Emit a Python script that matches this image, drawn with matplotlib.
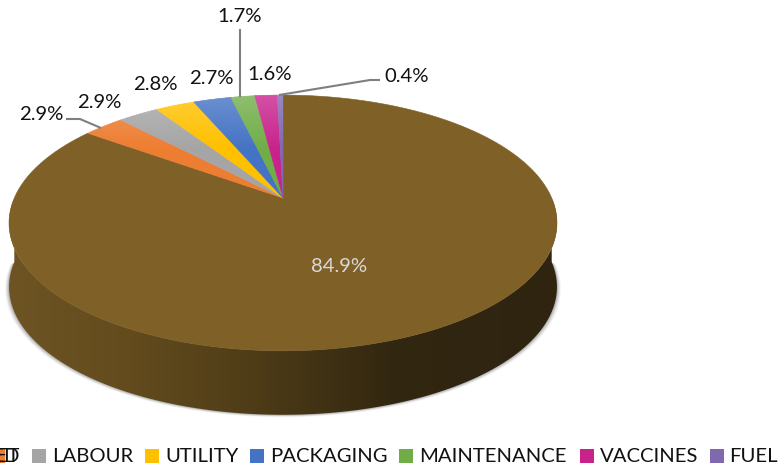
import numpy as np
import matplotlib
matplotlib.use("Agg")
import matplotlib.pyplot as plt
from matplotlib.patches import Polygon, Rectangle
from matplotlib.colors import LinearSegmentedColormap

plt.rcParams['font.family'] = ['Lato', 'DejaVu Sans']

categories = ["FEED", "VET", "LABOUR", "UTILITY", "PACKAGING", "MAINTENANCE", "VACCINES", "FUEL"]
shares = [84.9, 2.9, 2.9, 2.8, 2.7, 1.7, 1.6, 0.4]
colors = ["#7F6128", "#ED7D31", "#A5A5A5", "#FFC000", "#4472C4", "#70AD47", "#C8228C", "#7F68AE"]

# Tilted-disc geometry, in pixels
APEX = (283.0, 198.0)
TILT = 0.195
SCALE_X = 268.7
SCALE_Y = 123.0
DEPTH = 64.0
FONT = 14.6


def project(x, y):
    w = 1 + TILT * y
    return APEX[0] + SCALE_X * x / w, APEX[1] - SCALE_Y * y / w


def wedge_outline(theta1, theta2, r):
    t = np.radians(np.linspace(theta1, theta2, max(int(theta2 - theta1) * 3, 12)))
    x = np.r_[0.0, r * np.cos(t)]
    y = np.r_[0.0, r * np.sin(t)]
    return np.column_stack(project(x, y))


fig = plt.figure(figsize=(7.84, 4.70), dpi=100)
ax = fig.add_axes([0, 0, 1, 1])
wedges, _ = ax.pie(shares, colors=colors, startangle=90, counterclock=False)
ax.set_aspect('auto')
ax.set_xlim(0, 784)
ax.set_ylim(470, 0)
ax.axis('off')

# Soft shadow around the rim
tt = np.radians(np.linspace(180, 360, 240))
rx, ry = project(np.cos(tt), np.sin(tt))
for grow, alpha in [(4.0, 0.06), (3.0, 0.10), (2.0, 0.14), (1.0, 0.20)]:
    cx = 283.0
    sx = cx + (rx - cx) * (1 + grow / 274)
    ax.add_patch(Polygon(np.column_stack([sx, ry + DEPTH + grow * 0.6]), closed=True,
                         fc="#555555", ec="none", alpha=alpha, zorder=1))

# Side wall with its horizontal shading
ring_t = np.radians(np.linspace(180, 360, 240))
top_x, top_y = project(np.cos(ring_t), np.sin(ring_t))
ring_x = np.r_[top_x, top_x[::-1]]
ring_y = np.r_[top_y, top_y[::-1] + DEPTH]
side = Polygon(np.column_stack([ring_x, ring_y]), closed=True, fc="none", ec="none", zorder=2)
ax.add_patch(side)
side_cmap = LinearSegmentedColormap.from_list(
    "side", [(0, "#6E5423"), (0.22, "#634B1E"), (0.45, "#4E3C17"), (0.7, "#322710"), (1, "#2E2410")])
img = ax.imshow(np.linspace(0, 1, 256)[None, :], cmap=side_cmap, aspect='auto',
                extent=[9, 557, 420, 200], zorder=2)
img.set_clip_path(side)
ax.set_xlim(0, 784)
ax.set_ylim(470, 0)

# Top face built from the pie wedges
sheen = LinearSegmentedColormap.from_list("sheen", [(1, 1, 1, 0.22), (1, 1, 1, 0.0)])
for i, w in enumerate(wedges):
    pts = wedge_outline(w.theta1, w.theta2, w.r)
    face = w.get_facecolor()
    w.remove()
    poly = Polygon(pts, closed=True, fc=face, ec=face, lw=0.4, zorder=3)
    ax.add_patch(poly)
    if i > 0:
        layer = ax.imshow(np.linspace(0, 1, 64)[:, None], cmap=sheen, aspect='auto',
                          extent=[0, 784, 150, 94], zorder=4)
        layer.set_clip_path(poly)
ax.set_xlim(0, 784)
ax.set_ylim(470, 0)

# Value labels
label_xy = [(339, 266), (41, 114), (99, 102), (155, 84), (211, 78), (240, 17), (270, 75), (407, 77)]
for i, (v, (lx, ly)) in enumerate(zip(shares, label_xy)):
    ax.text(lx, ly, f"{v}%", ha='center', va='center', fontsize=FONT,
            color="#D9D9D9" if i == 0 else "#111111", zorder=6)

# Leader lines
leaders = [([66, 80, 101], [119, 119, 128]),
           ([240, 240], [29, 97]),
           ([380, 370, 279], [80, 80, 95])]
for lx, ly in leaders:
    ax.plot(lx, ly, color="#7F7F7F", lw=1.5, zorder=5, solid_capstyle='butt')

# Legend row, running off the left edge
swatch_x = [-37, -9, 32, 145, 250, 399, 580, 710]
text_x = [-31, -17, 52, 165, 270, 419, 600, 729]
for name, c, sx, tx in zip(categories, colors, swatch_x, text_x):
    ax.add_patch(Rectangle((sx, 449), 14, 14, fc=c, ec="none", clip_on=True, zorder=5))
    ax.text(tx, 456, name, ha='left', va='center', fontsize=FONT, color="#111111", zorder=6)

fig.savefig("out.png", dpi=100)
